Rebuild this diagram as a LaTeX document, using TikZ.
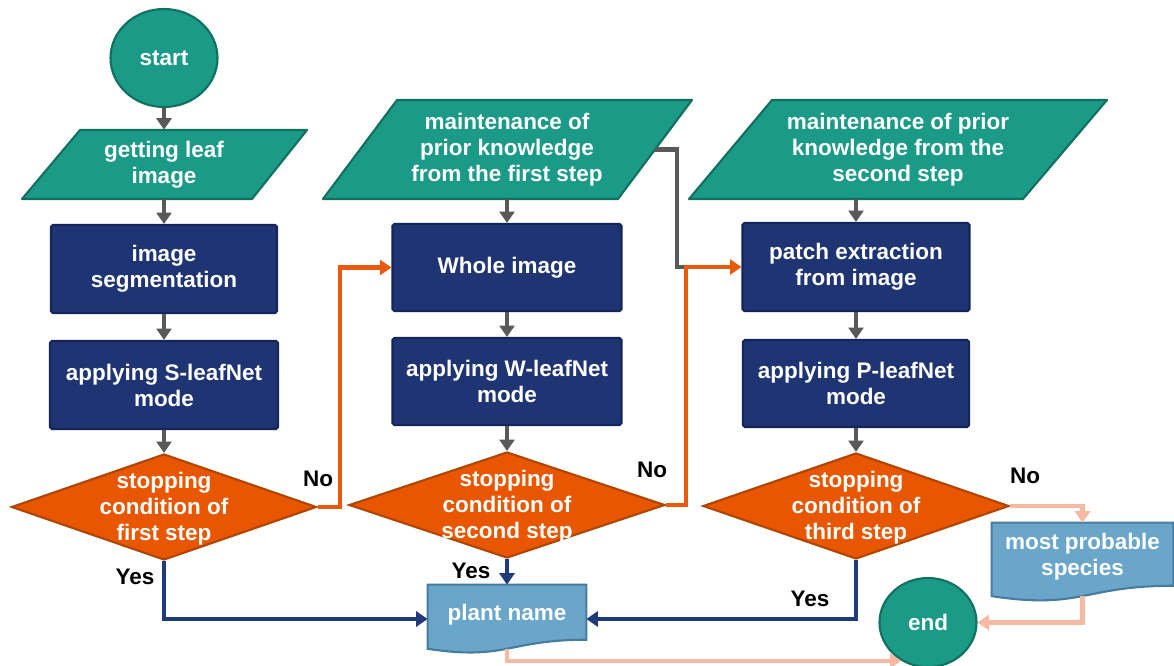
\documentclass[tikz,border=0pt]{standalone}
\usepackage{fontspec}
\setmainfont{Liberation Sans}
\usetikzlibrary{shapes.geometric,arrows.meta,calc}
\pgfdeclarelayer{background}
\pgfsetlayers{background,main}
\definecolor{teal1}{HTML}{1A9A87}
\definecolor{teal2}{HTML}{12705F}
\definecolor{navy1}{HTML}{1F3473}
\definecolor{navy2}{HTML}{142559}
\definecolor{orng1}{HTML}{E85600}
\definecolor{orng2}{HTML}{B04400}
\definecolor{lblue1}{HTML}{6AA5CA}
\definecolor{lblue2}{HTML}{477C9E}
\definecolor{peach}{HTML}{F8B8A2}
\definecolor{gline}{HTML}{595959}
\definecolor{nline}{HTML}{203A7C}
\definecolor{oline}{HTML}{E95A0C}
\begin{document}
\begin{tikzpicture}[x=0.02cm,y=-0.02cm,
 every node/.style={font=\bfseries\fontsize{12.8}{14.8}\selectfont, align=center, text=white, inner sep=0pt},
 term/.style={ellipse, fill=teal1, draw=teal2, line width=1.2pt},
 proc/.style={rectangle, fill=navy1, draw=navy2, line width=1.2pt, rounded corners=1pt},
 dec/.style={diamond, fill=orng1, draw=orng2, line width=1.2pt, inner sep=0pt},
 io/.style={fill=teal1, draw=teal2, line width=1.2pt, line join=round},
 docshape/.style={fill=lblue1, draw=lblue2, line width=1.2pt},
 lab/.style={text=black},
 conn/.style={line width=2.3pt, -{Triangle[length=6.5pt,width=8.5pt]}},
 gconn/.style={conn, draw=gline},
 oconn/.style={conn, draw=oline},
 nconn/.style={conn, draw=nline},
 pconn/.style={conn, draw=peach, line width=2.6pt},
]
\useasboundingbox (0,0) rectangle (1174,666);

% column 1
\node[term, minimum width=107*0.02cm, minimum height=98*0.02cm] (start) at (164,58) {start};
\node[minimum width=180*0.02cm, minimum height=69*0.02cm] (leaf) at (164,164.5) {getting leaf\\image};
\node[proc, minimum width=226*0.02cm, minimum height=88*0.02cm] (seg) at (164,269) {image\\segmentation};
\node[proc, minimum width=228*0.02cm, minimum height=88*0.02cm] (sbox) at (164,385) {applying S-leafNet\\mode};
\node[dec, minimum width=305*0.02cm, minimum height=106*0.02cm] (d1) at (164,507) {};
\node (d1t) at (164,509) {stopping\\condition of\\first step};

% column 2
\node[minimum width=296*0.02cm, minimum height=99*0.02cm] (m1) at (507,149.5) {maintenance of\\prior knowledge\\from the first step};
\node[proc, minimum width=229*0.02cm, minimum height=87*0.02cm] (whole) at (507,267.5) {Whole image};
\node[proc, minimum width=229*0.02cm, minimum height=87*0.02cm] (wbox) at (507,381.5) {applying W-leafNet\\mode};
\node[dec, minimum width=316*0.02cm, minimum height=106*0.02cm] (d2) at (507,505) {};
\node (d2t) at (507,507) {stopping\\condition of\\second step};
\node[minimum width=158*0.02cm, minimum height=68*0.02cm] (plant) at (507,619) {};
\node (plantt) at (507,615) {plant name};

% column 3
\node[minimum width=300*0.02cm, minimum height=99*0.02cm] (m2) at (898,149.5) {maintenance of prior\\knowledge from the\\second step};
\node[proc, minimum width=227*0.02cm, minimum height=88*0.02cm] (patch) at (856,267) {patch extraction\\from image};
\node[proc, minimum width=226*0.02cm, minimum height=87*0.02cm] (pbox) at (856,383.5) {applying P-leafNet\\mode};
\node[dec, minimum width=306*0.02cm, minimum height=106*0.02cm] (d3) at (856,506) {};
\node (d3t) at (856,508) {stopping\\condition of\\third step};
\node[minimum width=181*0.02cm, minimum height=78*0.02cm] (doc2) at (1082.5,562) {};
\node (doc2t) at (1082.5,557) {most probable\\species};
\node[term, minimum width=97*0.02cm, minimum height=89*0.02cm] (end) at (928,622.5) {end};

% labels
\node[lab] (no1) at (318,479) {No};
\node[lab] (yes1) at (135,577) {Yes};
\node[lab] (no2) at (652,470) {No};
\node[lab] (yes2) at (471,571) {Yes};
\node[lab] (no3) at (1025,476) {No};
\node[lab] (yes3) at (810,599) {Yes};

% background shapes
\begin{pgfonlayer}{background}
\filldraw[io] (80,130) -- (307,130) -- (252,199) -- (22,199) -- cycle;
\filldraw[io] (397,100) -- (692,100) -- (618,199) -- (323,199) -- cycle;
\filldraw[io] (772,100) -- (1107,100) -- (1023,199) -- (689,199) -- cycle;
\filldraw[docshape] (plant.north west) -- (plant.north east) -- ($(plant.north east)!0.802!(plant.south east)$) .. controls ($(plant.north)!0.802!(plant.south)$) and ($(plant.north)!1.1075!(plant.south)$) .. ($(plant.north west)!0.934!(plant.south west)$) -- cycle;
\filldraw[docshape] (doc2.north west) -- (doc2.north east) -- ($(doc2.north east)!0.802!(doc2.south east)$) .. controls ($(doc2.north)!0.802!(doc2.south)$) and ($(doc2.north)!1.1075!(doc2.south)$) .. ($(doc2.north west)!0.934!(doc2.south west)$) -- cycle;
\end{pgfonlayer}

% coordinates
\coordinate (o1) at (340,507);
\coordinate (g1) at (677,267);
\coordinate (j2) at (686,267);
\coordinate (plantb) at ($(plant.north)!0.93!(plant.south)$);
\coordinate (doc2b) at ($(doc2.north)!0.93!(doc2.south)$);
\coordinate (m1e) at (655,149.5);

% connectors
\draw[gconn] (start) -- (leaf);
\draw[gconn] (leaf) -- (seg);
\draw[gconn] (seg) -- (sbox);
\draw[gconn] (sbox) -- (d1);
\draw[gconn] (m1) -- (whole);
\draw[gconn] (whole) -- (wbox);
\draw[gconn] (wbox) -- (d2);
\draw[gconn] (m2.south -| patch.north) -- (patch.north);
\draw[gconn] (patch) -- (pbox);
\draw[gconn] (pbox) -- (d3);
\draw[draw=gline, line width=2.3pt] (m1e) -| (g1) -- (j2);
\draw[oconn] (d1.east) -- (o1) |- (whole.west);
\draw[oconn] (d2.east) -| (j2) -- (patch.west);
\draw[nconn] (d1.south) |- (plant.west);
\draw[nconn] (d2.south) -- (plant.north);
\draw[nconn] (d3.south) |- (plant.east);
\draw[pconn] (d3.east) -| (doc2.north);
\draw[pconn] (doc2b) |- (end.east);
\draw[pconn] (plantb) |- (end.235);
\end{tikzpicture}
\end{document}
